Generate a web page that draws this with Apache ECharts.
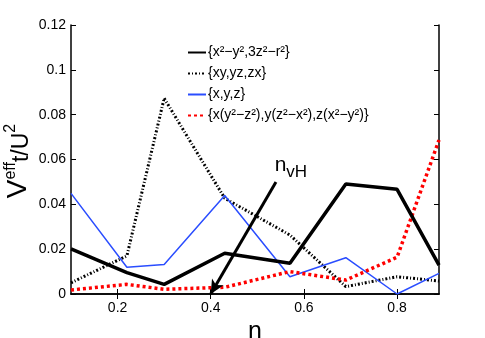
<!DOCTYPE html>
<html>
<head>
<meta charset="utf-8">
<script src="https://cdn.jsdelivr.net/npm/echarts@6/dist/echarts.min.js"></script>
<style>
  html, body { margin: 0; padding: 0; background: #fff; }
  #chart { width: 485px; height: 338px; }
</style>
</head>
<body>
<div id="chart"></div>
<script>
  // filling n on the x axis
  const nVals = [0.1, 0.22, 0.3, 0.43, 0.57, 0.69, 0.8, 0.89]
  // V_t^eff / U^2 for each orbital set
  const egVals = [0.0201, 0.0095, 0.0043, 0.0182, 0.0137, 0.0491, 0.0467, 0.0129]
  const t2gVals = [0.005, 0.017, 0.0873, 0.0427, 0.0263, 0.0033, 0.0077, 0.0058]
  const pVals = [0.0449, 0.0119, 0.0132, 0.0439, 0.0077, 0.0162, 0.0, 0.0092]
  const fVals = [0.0018, 0.0043, 0.0021, 0.003, 0.010, 0.0062, 0.0164, 0.0687]
  const seriesNames = ['{x²−y²,3z²−r²}', '{xy,yz,zx}', '{x,y,z}', '{x(y²−z²),y(z²−x²),z(x²−y²)}']
  const xTicks = [0.2, 0.4, 0.6, 0.8]
  // van Hove filling arrow
  const arrowFrom = [0.54, 0.05]
  const arrowTo = [0.4, 0]
  const arrowLabelAt = [0.572, 0.0562]

  const font = '"Liberation Sans", Arial, sans-serif'
  const pairs = (ys) => nVals.map((x, i) => [x, ys[i]])

  const chart = echarts.init(document.getElementById('chart'))
  chart.setOption({
    animation: false,
    textStyle: { fontFamily: font },
    grid: { left: 71, right: 46, top: 25, bottom: 44, containLabel: false, outerBoundsMode: 'none' },
    // y axis title, placed by hand since the axis name gets pushed off the left edge
    graphic: [{
      type: 'text',
      x: 18,
      y: 161,
      rotation: Math.PI / 2,
      silent: true,
      style: {
        text: '{v|V}{sup|eff}{sub|t/U}{sup2|2}',
        align: 'center',
        verticalAlign: 'middle',
        fill: '#000',
        rich: {
          v: { fontSize: 28, lineHeight: 30, fontFamily: font, fill: '#000' },
          sup: { fontSize: 16, lineHeight: 15, verticalAlign: 'top', fontFamily: font, fill: '#000' },
          sub: { fontSize: 23, lineHeight: 24, verticalAlign: 'bottom', fontFamily: font, fill: '#000' },
          sup2: { fontSize: 16, lineHeight: 15, verticalAlign: 'top', fontFamily: font, fill: '#000' }
        }
      }
    }],
    legend: {
      orient: 'vertical',
      left: 182,
      top: 39,
      itemWidth: 18,
      itemHeight: 10,
      itemGap: 4,
      itemStyle: { opacity: 0 },
      textStyle: { fontSize: 14, lineHeight: 17, color: '#000', fontFamily: font, padding: [0, 0, 0, -3] },
      data: seriesNames
    },
    xAxis: [{
      type: 'value',
      min: 0.1,
      max: 0.89,
      name: 'n',
      nameLocation: 'middle',
      nameGap: 21,
      nameTextStyle: { fontSize: 25, color: '#000', fontFamily: font },
      axisLine: { lineStyle: { color: '#000', width: 1.5 } },
      axisTick: { inside: true, length: 5, customValues: xTicks, lineStyle: { color: '#000' } },
      axisLabel: { customValues: xTicks, fontSize: 14, color: '#000', margin: 7, fontFamily: font },
      splitLine: { show: false }
    }, {
      type: 'value',
      position: 'top',
      min: 0.1,
      max: 0.89,
      axisLine: { lineStyle: { color: '#000', width: 1.5 } },
      axisTick: { inside: true, length: 5, customValues: xTicks, lineStyle: { color: '#000' } },
      axisLabel: { show: false },
      splitLine: { show: false }
    }],
    yAxis: [{
      type: 'value',
      min: 0,
      max: 0.12,
      interval: 0.02,
      axisLine: { show: true, lineStyle: { color: '#000', width: 1.5 } },
      axisTick: { show: true, inside: true, length: 5, lineStyle: { color: '#000' } },
      axisLabel: { fontSize: 14, color: '#000', margin: 5, fontFamily: font },
      splitLine: { show: false }
    }, {
      type: 'value',
      position: 'right',
      min: 0,
      max: 0.12,
      interval: 0.02,
      axisLine: { show: true, lineStyle: { color: '#000', width: 1.5 } },
      axisTick: { show: true, inside: true, length: 5, lineStyle: { color: '#000' } },
      axisLabel: { show: false },
      splitLine: { show: false }
    }],
    series: [{
      name: seriesNames[0],
      type: 'line',
      data: pairs(egVals),
      symbol: 'none',
      itemStyle: { color: '#000' },
      lineStyle: { color: '#000', width: 3.5 },
      z: 5,
      markLine: {
        silent: true,
        symbol: ['none', 'arrow'],
        symbolSize: [10, 14],
        label: { show: false },
        lineStyle: { color: '#000', width: 3, type: 'solid' },
        data: [[{ coord: arrowFrom }, { coord: arrowTo }]]
      },
      markPoint: {
        silent: true,
        symbol: 'circle',
        symbolSize: 0,
        data: [{ coord: arrowLabelAt }],
        label: {
          show: true,
          position: 'inside',
          formatter: '{n|n}{s|vH}',
          rich: {
            n: { fontSize: 21, lineHeight: 26, color: '#000', verticalAlign: 'top', fontFamily: font },
            s: { fontSize: 17, lineHeight: 17, color: '#000', verticalAlign: 'bottom', fontFamily: font }
          }
        }
      }
    }, {
      name: seriesNames[1],
      type: 'line',
      data: pairs(t2gVals),
      symbol: 'none',
      itemStyle: { color: '#000' },
      lineStyle: { color: '#000', width: 3, type: [2, 2, 1, 2] }
    }, {
      name: seriesNames[2],
      type: 'line',
      data: pairs(pVals),
      symbol: 'none',
      itemStyle: { color: '#2a4dff' },
      lineStyle: { color: '#2a4dff', width: 1.5 }
    }, {
      name: seriesNames[3],
      type: 'line',
      data: pairs(fVals),
      symbol: 'none',
      itemStyle: { color: '#ff0000' },
      lineStyle: { color: '#ff0000', width: 3.5, type: [3, 3] }
    }]
  })
</script>
</body>
</html>
